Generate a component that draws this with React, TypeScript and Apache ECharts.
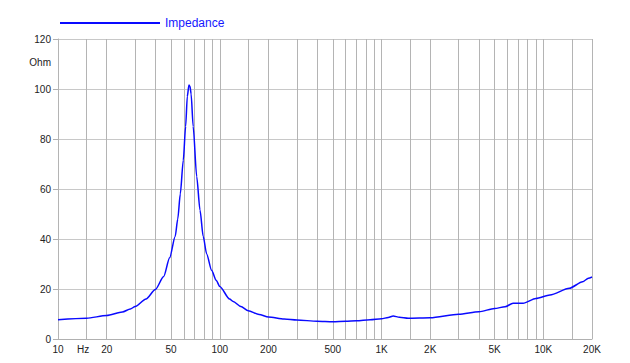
import React, { useEffect, useRef } from "react";
import * as echarts from "echarts";

const freqs = [10, 15, 20, 25, 28, 30, 35, 40, 45, 49, 53, 55, 57, 59.5, 61.5, 63, 64.5, 65.5, 66.5, 68.5, 72, 75.5, 79, 83, 89, 95, 100, 115, 121, 135, 150, 175, 200, 250, 300, 400, 500, 600, 700, 850, 1000, 1100, 1180, 1290, 1460, 2000, 3000, 4000, 5000, 5800, 6500, 7500, 9000, 11000, 14500, 17500, 19000, 20000];
const impedance = [7.7, 8.3, 9.4, 10.8, 12.0, 13, 16, 19.8, 25, 32.5, 41, 48, 58, 71.5, 85, 97, 101.6, 101, 98, 85, 65, 51.5, 41, 34, 27.5, 23.5, 21, 16, 15, 13, 11.3, 9.8, 8.8, 8, 7.6, 7.1, 6.9, 7.1, 7.3, 7.7, 8.1, 8.6, 9.2, 8.7, 8.3, 8.5, 9.9, 10.9, 12.2, 12.9, 14.3, 14.3, 16.2, 17.6, 20.3, 22.9, 24.3, 24.8];

const gridFreqs = [10, 15, 20, 30, 40, 50, 60, 70, 80, 90, 100, 150, 200, 300, 400, 500, 600, 700, 800, 900, 1000, 1500, 2000, 3000, 4000, 5000, 6000, 7000, 8000, 9000, 10000, 15000, 20000];
const labelFreqs = [10, 14.3, 20, 50, 100, 200, 500, 1000, 2000, 5000, 10000, 20000];
const labelTexts = ["10", "Hz", "20", "50", "100", "200", "500", "1K", "2K", "5K", "10K", "20K"];

const FONT = "'Liberation Sans', Arial, sans-serif";

export default function App() {
  const ref = useRef<HTMLDivElement>(null);
  useEffect(() => {
    if (!ref.current) return;
    const chart = echarts.init(ref.current, undefined, { renderer: "svg" });
    const gridLines = gridFreqs.map((f) => ({
      xAxis: f,
      lineStyle: { color: "#b4b4b4", width: 1, type: "solid" as const },
      label: { show: false },
    }));
    const labelLines = labelFreqs.map((f, i) => ({
      xAxis: f,
      lineStyle: { color: "rgba(0,0,0,0)", width: 0 },
      label: {
        show: true,
        position: "start" as const,
        formatter: labelTexts[i],
        color: "#222",
        fontSize: 10,
        fontFamily: FONT,
        distance: 5,
      },
    }));
    chart.setOption({
      animation: false,
      textStyle: { fontFamily: FONT },
      grid: { left: 58, right: 38, top: 39, bottom: 24, containLabel: false },
      legend: {
        data: ["Impedance"],
        left: 55,
        top: 12,
        icon: "rect",
        itemWidth: 100,
        itemHeight: 2,
        itemGap: 5,
        textStyle: { color: "#1515ff", fontSize: 12, fontFamily: FONT },
      },
      graphic: [
        {
          type: "text",
          right: 579,
          top: 57,
          style: { text: "Ohm", fill: "#222", font: `10px ${FONT}` },
        },
      ],
      xAxis: {
        type: "log",
        logBase: 10,
        min: 10,
        max: 20000,
        axisLine: { show: true, lineStyle: { color: "#b0b0b0" } },
        axisTick: { show: false },
        axisLabel: { show: false },
        splitLine: { show: false },
      },
      yAxis: {
        type: "value",
        min: 0,
        max: 120,
        interval: 20,
        axisLine: { show: true, lineStyle: { color: "#b0b0b0" } },
        axisTick: { show: true, length: 5, lineStyle: { color: "#b0b0b0" } },
        axisLabel: { color: "#222", fontSize: 10, fontFamily: FONT, margin: 7 },
        splitLine: { show: true, lineStyle: { color: "#c8c8c8" } },
      },
      series: [
        {
          name: "grid",
          type: "line",
          data: [],
          z: 1,
          silent: true,
          markLine: {
            silent: true,
            symbol: ["none", "none"],
            animation: false,
            data: [...gridLines, ...labelLines],
          },
        },
        {
          name: "Impedance",
          type: "line",
          z: 5,
          symbol: "none",
          smooth: 0.25,
          smoothMonotone: "x",
          lineStyle: { color: "#0a0aff", width: 1.5 },
          itemStyle: { color: "#0a0aff" },
          data: freqs.map((f, i) => [f, impedance[i]]),
        },
      ],
    });
    return () => chart.dispose();
  }, []);
  return <div ref={ref} style={{ width: 630, height: 363, position: "absolute", left: 0, top: 0 }} />;
}
